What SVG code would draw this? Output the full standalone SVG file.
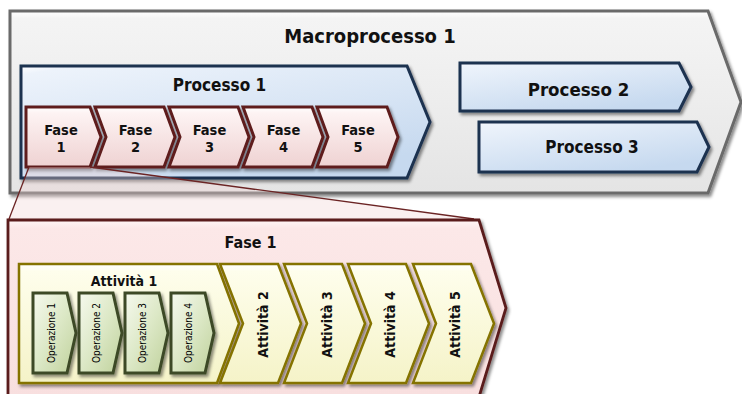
<svg xmlns="http://www.w3.org/2000/svg" width="742" height="394" viewBox="0 0 742 394">
  <defs>
    <linearGradient id="gMacro" x1="0" y1="0" x2="0" y2="1">
      <stop offset="0" stop-color="#ffffff"/>
      <stop offset="0.04" stop-color="#f4f4f4"/>
      <stop offset="0.5" stop-color="#ededed"/>
      <stop offset="1" stop-color="#e4e4e4"/>
    </linearGradient>
    <linearGradient id="gProc" x1="0" y1="0" x2="0.6" y2="1">
      <stop offset="0" stop-color="#ffffff"/>
      <stop offset="0.06" stop-color="#edf3fb"/>
      <stop offset="1" stop-color="#c6d9ef"/>
    </linearGradient>
    <linearGradient id="gFase" x1="0" y1="0" x2="0" y2="1">
      <stop offset="0" stop-color="#ffffff"/>
      <stop offset="0.1" stop-color="#fdf3f3"/>
      <stop offset="1" stop-color="#efd2d2"/>
    </linearGradient>
    <linearGradient id="gFaseBig" x1="0" y1="0" x2="0" y2="1">
      <stop offset="0" stop-color="#fff6f6"/>
      <stop offset="0.05" stop-color="#fce8e8"/>
      <stop offset="1" stop-color="#f8dfdf"/>
    </linearGradient>
    <linearGradient id="gAtt" x1="0" y1="0" x2="0" y2="1">
      <stop offset="0" stop-color="#ffffff"/>
      <stop offset="0.06" stop-color="#fefeec"/>
      <stop offset="1" stop-color="#f5f3c8"/>
    </linearGradient>
    <linearGradient id="gOp" x1="0" y1="0" x2="1" y2="1">
      <stop offset="0" stop-color="#f6f9ee"/>
      <stop offset="0.5" stop-color="#dce8c6"/>
      <stop offset="1" stop-color="#bfd19b"/>
    </linearGradient>
    <filter id="shadow" x="-10%" y="-10%" width="130%" height="130%">
      <feDropShadow dx="2" dy="2.5" stdDeviation="1.6" flood-color="#000" flood-opacity="0.45"/>
    </filter>
  </defs>
  <style>
    .macro { fill: url(#gMacro); stroke: #6a6a6a; stroke-width: 3; filter: url(#shadow); }
    .proc { fill: url(#gProc); stroke: #1c3150; stroke-width: 3; filter: url(#shadow); }
    .fase { fill: url(#gFase); stroke: #5e1f1f; stroke-width: 3; filter: url(#shadow); }
    .faseBig { fill: url(#gFaseBig); stroke: #5a1c1c; stroke-width: 2.8; filter: url(#shadow); }
    .att { fill: url(#gAtt); stroke: #857300; stroke-width: 2.5; filter: url(#shadow); }
    .op { fill: url(#gOp); stroke: #3c4a28; stroke-width: 3; filter: url(#shadow); }
    text { font-family: "DejaVu Sans Condensed", "DejaVu Sans", sans-serif; font-stretch: condensed; fill: #111; text-anchor: middle; }
    .b { font-weight: bold; }
    .t20 { font-size: 20px; }
    .t17 { font-size: 17px; }
    .t16 { font-size: 16px; }
    .t14 { font-size: 14px; }
    .t13 { font-size: 14.5px; }
    .t10 { font-size: 10px; fill: #000; }
    .link { stroke: #6b2424; stroke-width: 1.3; fill: none; }
    .wash { fill: #f1d4d4; opacity: 0.35; }
  </style>

  <!-- top level: macro process -->
  <g id="macroprocesso-1">
    <polygon class="macro" points="10,11 708,11 741,102 708,193 10,193"/>
    <text class="b t20" x="370" y="43">Macroprocesso 1</text>
  </g>

  <g id="processo-1">
    <polygon class="proc" points="21,66 407,66 430,122 407,178 21,178"/>
    <text class="b t17" x="219.5" y="91">Processo 1</text>
  </g>

  <!-- phases of process 1 -->
  <g id="fase-1">
    <polygon class="fase" points="26,107 90,107 101,137 90,167 26,167"/>
    <text class="b t13" x="61" y="135">Fase</text>
    <text class="b t13" x="61" y="152">1</text>
  </g>
  <g id="fase-2">
    <polygon class="fase" points="95,107 164,107 175,137 164,167 95,167 106,137"/>
    <text class="b t13" x="135.5" y="135">Fase</text>
    <text class="b t13" x="135.5" y="152">2</text>
  </g>
  <g id="fase-3">
    <polygon class="fase" points="169,107 238,107 249,137 238,167 169,167 180,137"/>
    <text class="b t13" x="209.5" y="135">Fase</text>
    <text class="b t13" x="209.5" y="152">3</text>
  </g>
  <g id="fase-4">
    <polygon class="fase" points="243,107 312,107 323,137 312,167 243,167 254,137"/>
    <text class="b t13" x="283.5" y="135">Fase</text>
    <text class="b t13" x="283.5" y="152">4</text>
  </g>
  <g id="fase-5">
    <polygon class="fase" points="317,107 387,107 398,137 387,167 317,167 328,137"/>
    <text class="b t13" x="358" y="135">Fase</text>
    <text class="b t13" x="358" y="152">5</text>
  </g>

  <g id="processo-2">
    <polygon class="proc" points="460,63 679,63 691,87 679,111 460,111"/>
    <text class="b t17" x="578.5" y="96" style="font-size:18.5px">Processo 2</text>
  </g>
  <g id="processo-3">
    <polygon class="proc" points="479,122 697,122 709,147 697,172 479,172"/>
    <text class="b t17" x="592" y="153">Processo 3</text>
  </g>

  <!-- zoom lines from Fase 1 to its detail -->
  <g id="connectors">
    <polygon class="wash" points="29,167 90,167 474,219 9,219"/>
    <line class="link" x1="29" y1="167" x2="9" y2="219"/>
    <line class="link" x1="90" y1="167" x2="474" y2="219"/>
  </g>

  <!-- detail of phase 1 -->
  <g id="fase-1-dettaglio">
    <polygon class="faseBig" points="8,220 479,220 506,308 479,397 8,397"/>
    <text class="b t16" x="250.5" y="248">Fase 1</text>
  </g>

  <g id="attivita-1">
    <polygon class="att" points="19,264 217,264 239,323.5 217,383 19,383"/>
    <text class="b t14" x="124" y="286">Attività 1</text>
  </g>

  <g id="operazione-1">
    <polygon class="op" points="33,293 67,293 76,333 67,373 33,373"/>
    <text class="t10" transform="translate(51.5,333) rotate(-90)" y="3.6">Operazione 1</text>
  </g>
  <g id="operazione-2">
    <polygon class="op" points="79,293 113,293 122,333 113,373 79,373"/>
    <text class="t10" transform="translate(96.5,333) rotate(-90)" y="3.6">Operazione 2</text>
  </g>
  <g id="operazione-3">
    <polygon class="op" points="125,293 159,293 168,333 159,373 125,373"/>
    <text class="t10" transform="translate(142,333) rotate(-90)" y="3.6">Operazione 3</text>
  </g>
  <g id="operazione-4">
    <polygon class="op" points="171,293 205,293 214,333 205,373 171,373"/>
    <text class="t10" transform="translate(188,333) rotate(-90)" y="3.6">Operazione 4</text>
  </g>

  <g id="attivita-2">
    <polygon class="att" points="220,264 278,264 301,323.5 278,383 220,383 243,323.5"/>
    <text class="b t14" transform="translate(263,324.5) rotate(-90)" y="5">Attività 2</text>
  </g>
  <g id="attivita-3">
    <polygon class="att" points="284,264 342,264 365,323.5 342,383 284,383 307,323.5"/>
    <text class="b t14" transform="translate(326.5,324.5) rotate(-90)" y="5">Attività 3</text>
  </g>
  <g id="attivita-4">
    <polygon class="att" points="348,264 406,264 429,323.5 406,383 348,383 371,323.5"/>
    <text class="b t14" transform="translate(390,324.5) rotate(-90)" y="5">Attività 4</text>
  </g>
  <g id="attivita-5">
    <polygon class="att" points="413,264 471,264 494,323.5 471,383 413,383 436,323.5"/>
    <text class="b t14" transform="translate(454.5,324.5) rotate(-90)" y="5">Attività 5</text>
  </g>
</svg>
